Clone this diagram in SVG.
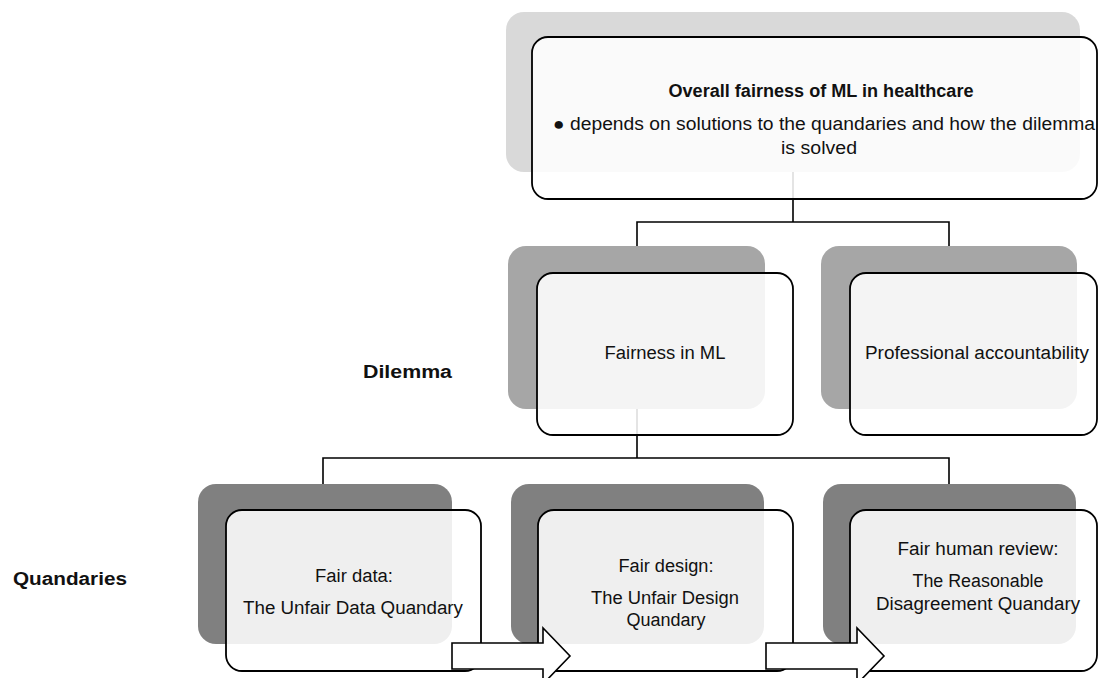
<svg xmlns="http://www.w3.org/2000/svg" width="1099" height="678" viewBox="0 0 1099 678">
<style>
.bk1{fill:#d9d9d9}
.bk2{fill:#a6a6a6}
.bk3{fill:#808080}
.fr{fill:#ffffff;fill-opacity:0.87;stroke:#000;stroke-width:1.8}
.t{font-family:"Liberation Sans",Arial,sans-serif;font-size:18px;fill:#111;text-anchor:middle}
.b{font-weight:bold}
.con{fill:none;stroke:#000;stroke-width:1.6}
.arr{fill:#fff;stroke:#000;stroke-width:1.6;stroke-linejoin:miter}
</style>
<rect width="1099" height="678" fill="#fff"/>
<g id="connectors">
<path class="con" d="M793,171 V222 M637,248 V222 H949 V248"/>
<path class="con" d="M637,409 V458 M323,484 V458 H949 V484"/>
</g>
<g id="node-overall">
<rect class="bk1" x="506" y="12" width="574" height="160" rx="18"/>
<rect class="fr" x="532" y="37" width="565" height="162" rx="16"/>
<text class="t b" x="821" y="97" font-size="16.5" textLength="305" lengthAdjust="spacingAndGlyphs">Overall fairness of ML in healthcare</text>
<text class="t" x="824" y="130" textLength="542" lengthAdjust="spacingAndGlyphs">● depends on solutions to the quandaries and how the dilemma</text>
<text class="t" x="819" y="154" textLength="76" lengthAdjust="spacingAndGlyphs">is solved</text>
</g>
<g id="label-dilemma"><text class="t b" x="407.5" y="378" font-size="20" textLength="89" lengthAdjust="spacingAndGlyphs">Dilemma</text></g>
<g id="label-quandaries"><text class="t b" x="70" y="585" font-size="20" textLength="114" lengthAdjust="spacingAndGlyphs">Quandaries</text></g>
<g id="node-fairness-ml">
<rect class="bk2" x="508" y="246" width="257" height="163" rx="18"/>
<rect class="fr" x="537" y="273" width="256" height="162" rx="16"/>
<text class="t" x="665" y="359" textLength="121" lengthAdjust="spacingAndGlyphs">Fairness in ML</text>
</g>
<g id="node-professional">
<rect class="bk2" x="821" y="246" width="256" height="163" rx="18"/>
<rect class="fr" x="850" y="273" width="247" height="162" rx="16"/>
<text class="t" x="977" y="359" textLength="224" lengthAdjust="spacingAndGlyphs">Professional accountability</text>
</g>
<g id="node-fair-data">
<rect class="bk3" x="198" y="484" width="254" height="160" rx="18"/>
<rect class="fr" x="226" y="510" width="255" height="161" rx="16"/>
<text class="t" x="354" y="582" textLength="78" lengthAdjust="spacingAndGlyphs">Fair data:</text>
<text class="t" x="353" y="614" textLength="220" lengthAdjust="spacingAndGlyphs">The Unfair Data Quandary</text>
</g>
<g id="node-fair-design">
<rect class="bk3" x="511" y="484" width="253" height="160" rx="18"/>
<rect class="fr" x="538" y="510" width="255" height="161" rx="16"/>
<text class="t" x="666" y="572" textLength="95" lengthAdjust="spacingAndGlyphs">Fair design:</text>
<text class="t" x="665" y="604" textLength="148" lengthAdjust="spacingAndGlyphs">The Unfair Design</text>
<text class="t" x="666" y="626">Quandary</text>
</g>
<g id="node-fair-review">
<rect class="bk3" x="823" y="484" width="253" height="160" rx="18"/>
<rect class="fr" x="850" y="510" width="247" height="161" rx="16"/>
<text class="t" x="978" y="555" textLength="161" lengthAdjust="spacingAndGlyphs">Fair human review:</text>
<text class="t" x="978" y="587" textLength="131" lengthAdjust="spacingAndGlyphs">The Reasonable</text>
<text class="t" x="978" y="610" textLength="204" lengthAdjust="spacingAndGlyphs">Disagreement Quandary</text>
</g>
<g id="arrows">
<path class="arr" d="M452,643 H543 V628 L570,656 L543,684 V669 H452 Z"/>
<path class="arr" d="M766,643 H857 V628 L884,656 L857,684 V669 H766 Z"/>
</g>
</svg>
